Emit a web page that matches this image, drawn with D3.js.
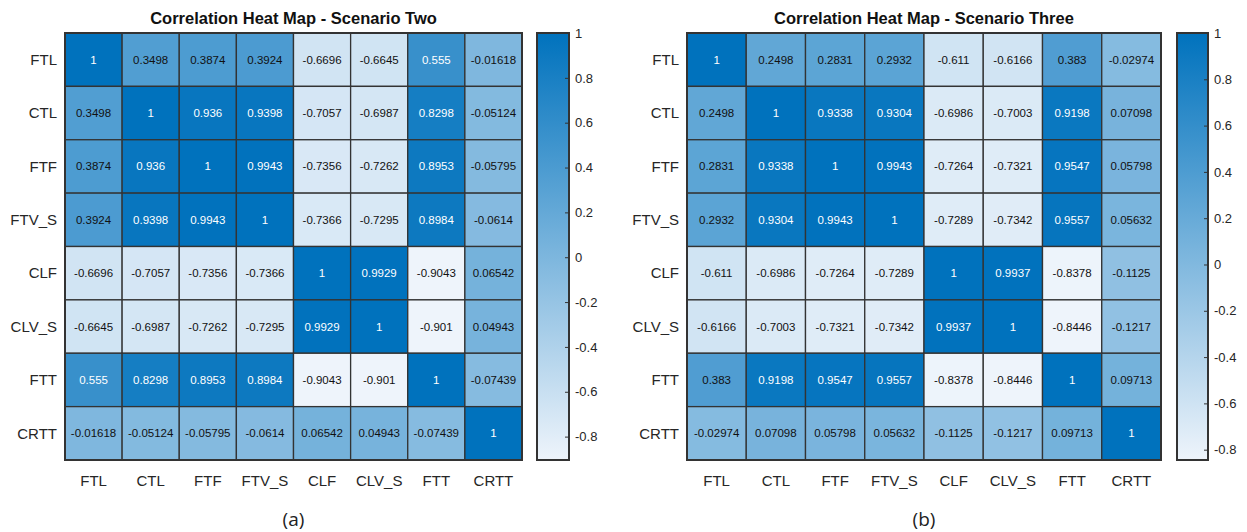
<!DOCTYPE html>
<html lang="en">
<head>
<meta charset="utf-8">
<style>
  body { margin: 0; background: #fff; }
  text { font-family: "Liberation Sans", Arial, sans-serif; }
  .cell-label { font-size: 11.5px; }
  .axis-label { font-size: 15px; fill: #262626; }
  .title { font-size: 16.5px; font-weight: bold; fill: #111; }
  .cbar-label { font-size: 13px; fill: #262626; }
  .caption { font-size: 19px; fill: #222; font-family: "Open Sans", "Liberation Sans", sans-serif; }
</style>
</head>
<body>
<svg width="1247" height="532"></svg>
<script src="https://d3js.org/d3.v7.min.js"></script>
<script>

var vars = ["FTL", "CTL", "FTF", "FTV_S", "CLF", "CLV_S", "FTT", "CRTT"];

var scenarioTwo = [
  [1, 0.3498, 0.3874, 0.3924, -0.6696, -0.6645, 0.555, -0.01618],
  [0.3498, 1, 0.936, 0.9398, -0.7057, -0.6987, 0.8298, -0.05124],
  [0.3874, 0.936, 1, 0.9943, -0.7356, -0.7262, 0.8953, -0.05795],
  [0.3924, 0.9398, 0.9943, 1, -0.7366, -0.7295, 0.8984, -0.0614],
  [-0.6696, -0.7057, -0.7356, -0.7366, 1, 0.9929, -0.9043, 0.06542],
  [-0.6645, -0.6987, -0.7262, -0.7295, 0.9929, 1, -0.901, 0.04943],
  [0.555, 0.8298, 0.8953, 0.8984, -0.9043, -0.901, 1, -0.07439],
  [-0.01618, -0.05124, -0.05795, -0.0614, 0.06542, 0.04943, -0.07439, 1]
];

var scenarioThree = [
  [1, 0.2498, 0.2831, 0.2932, -0.611, -0.6166, 0.383, -0.02974],
  [0.2498, 1, 0.9338, 0.9304, -0.6986, -0.7003, 0.9198, 0.07098],
  [0.2831, 0.9338, 1, 0.9943, -0.7264, -0.7321, 0.9547, 0.05798],
  [0.2932, 0.9304, 0.9943, 1, -0.7289, -0.7342, 0.9557, 0.05632],
  [-0.611, -0.6986, -0.7264, -0.7289, 1, 0.9937, -0.8378, -0.1125],
  [-0.6166, -0.7003, -0.7321, -0.7342, 0.9937, 1, -0.8446, -0.1217],
  [0.383, 0.9198, 0.9547, 0.9557, -0.8378, -0.8446, 1, 0.09713],
  [-0.02974, 0.07098, 0.05798, 0.05632, -0.1125, -0.1217, 0.09713, 1]
];

var cbarTicks = [1, 0.8, 0.6, 0.4, 0.2, 0, -0.2, -0.4, -0.6, -0.8];

var lowColor = "#eef4fb",
    highColor = "#0072bd";

var svg = d3.select("svg");

function drawHeatmap(id, matrix, title, caption, box) {
  var g = svg.append("g");

  var flat = d3.merge(matrix);
  var vmin = d3.min(flat), vmax = d3.max(flat);

  var color = d3.scaleLinear()
      .domain([vmin, vmax])
      .range([lowColor, highColor])
      .interpolate(d3.interpolateRgb);

  var x = d3.scaleBand().domain(vars).range([box.x0, box.x1]);
  var y = d3.scaleBand().domain(vars).range([box.y0, box.y1]);

  var cells = [];
  matrix.forEach(function(row, i) {
    row.forEach(function(v, j) {
      cells.push({ r: vars[i], c: vars[j], v: v });
    });
  });

  var cell = g.append("g").selectAll("g")
      .data(cells)
      .enter().append("g");

  cell.append("rect")
      .attr("x", function(d) { return x(d.c); })
      .attr("y", function(d) { return y(d.r); })
      .attr("width", x.bandwidth())
      .attr("height", y.bandwidth())
      .attr("fill", function(d) { return color(d.v); })
      .attr("stroke", "#333")
      .attr("stroke-width", 1.3);

  cell.append("text")
      .attr("class", "cell-label")
      .attr("x", function(d) { return x(d.c) + x.bandwidth() / 2; })
      .attr("y", function(d) { return y(d.r) + y.bandwidth() / 2; })
      .attr("text-anchor", "middle")
      .attr("dy", "0.35em")
      .attr("fill", function(d) {
        var c = d3.rgb(color(d.v));
        var lum = (0.2126 * c.r + 0.7152 * c.g + 0.0722 * c.b) / 255;
        return lum < 0.53 ? "#ffffff" : "#111111";
      })
      .text(function(d) { return String(d.v); });

  // outer frame
  g.append("rect")
      .attr("x", box.x0).attr("y", box.y0)
      .attr("width", box.x1 - box.x0).attr("height", box.y1 - box.y0)
      .attr("fill", "none")
      .attr("stroke", "#333")
      .attr("stroke-width", 2);

  // axis labels
  g.append("g").selectAll("text")
      .data(vars)
      .enter().append("text")
      .attr("class", "axis-label")
      .attr("x", box.x0 - 8)
      .attr("y", function(d) { return y(d) + y.bandwidth() / 2; })
      .attr("dy", "0.35em")
      .attr("text-anchor", "end")
      .text(function(d) { return d; });

  g.append("g").selectAll("text")
      .data(vars)
      .enter().append("text")
      .attr("class", "axis-label")
      .attr("x", function(d) { return x(d) + x.bandwidth() / 2; })
      .attr("y", box.y1 + 26)
      .attr("text-anchor", "middle")
      .text(function(d) { return d; });

  g.append("text")
      .attr("class", "title")
      .attr("x", (box.x0 + box.x1) / 2)
      .attr("y", box.y0 - 9)
      .attr("text-anchor", "middle")
      .text(title);

  g.append("text")
      .attr("class", "caption")
      .attr("x", (box.x0 + box.x1) / 2)
      .attr("y", box.y1 + 66)
      .attr("text-anchor", "middle")
      .text(caption);

  // colorbar
  var grad = svg.append("defs").append("linearGradient")
      .attr("id", id)
      .attr("x1", 0).attr("y1", 1).attr("x2", 0).attr("y2", 0);
  grad.append("stop").attr("offset", 0).attr("stop-color", lowColor);
  grad.append("stop").attr("offset", 1).attr("stop-color", highColor);

  var cy = d3.scaleLinear().domain([vmin, vmax]).range([box.y1, box.y0]);

  g.append("rect")
      .attr("x", box.cb0).attr("y", box.y0)
      .attr("width", box.cb1 - box.cb0).attr("height", box.y1 - box.y0)
      .attr("fill", "url(#" + id + ")")
      .attr("stroke", "#333")
      .attr("stroke-width", 2);

  var axis = d3.axisRight(cy)
      .tickValues(cbarTicks)
      .tickSize(0)
      .tickPadding(6)
      .tickFormat(function(d) { return String(d); });

  var ax = g.append("g")
      .attr("transform", "translate(" + box.cb1 + ",0)")
      .call(axis);
  ax.select(".domain").remove();
  ax.selectAll("text").attr("class", "cbar-label").attr("font-size", null).attr("font-family", null);
  ax.selectAll(".tick").append("line")
      .attr("x1", -4).attr("x2", 0)
      .attr("stroke", "#333");
}

drawHeatmap("grad-two", scenarioTwo, "Correlation Heat Map - Scenario Two", "(a)",
  { x0: 65, x1: 522, y0: 33, y1: 460, cb0: 537, cb1: 569 });
drawHeatmap("grad-three", scenarioThree, "Correlation Heat Map - Scenario Three", "(b)",
  { x0: 687, x1: 1161, y0: 33, y1: 460, cb0: 1177, cb1: 1208 });

</script>
</body>
</html>
